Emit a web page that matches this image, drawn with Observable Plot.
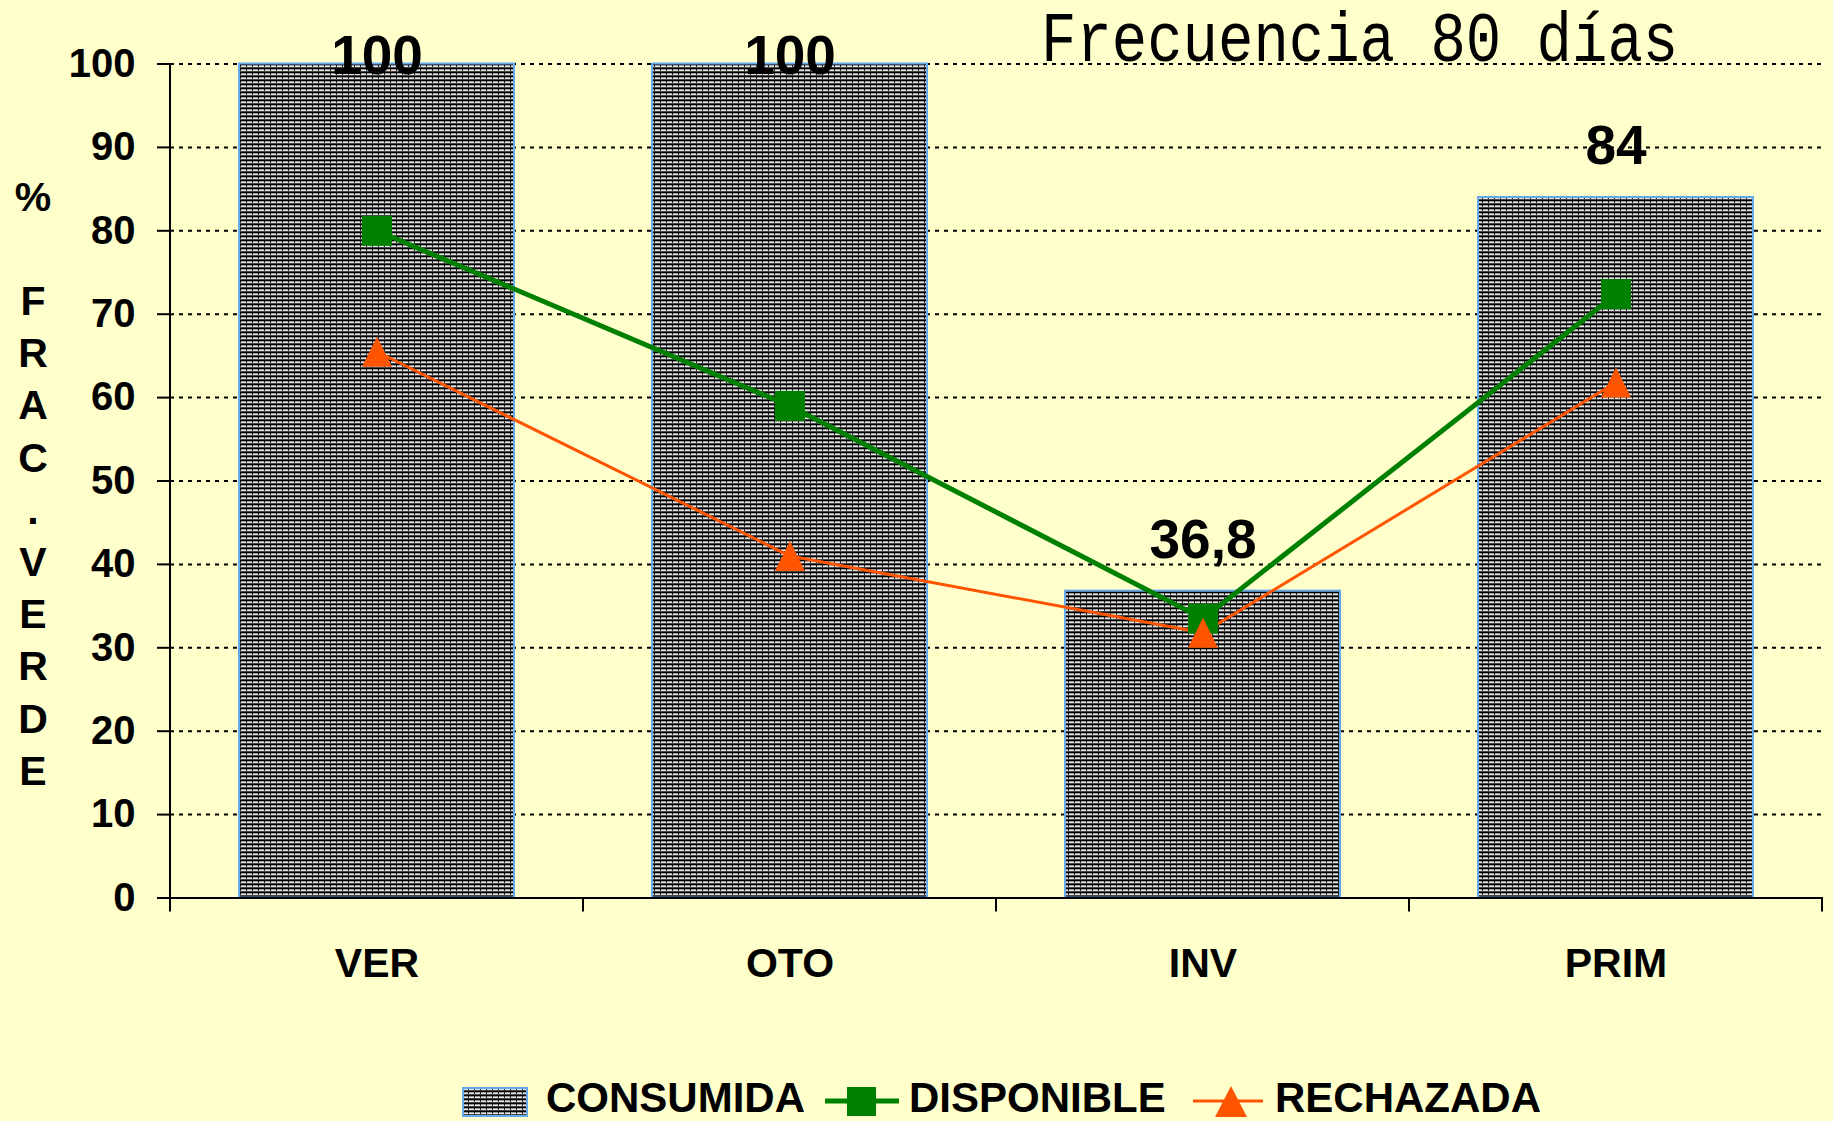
<!DOCTYPE html>
<html>
<head>
<meta charset="utf-8">
<script src="https://cdn.jsdelivr.net/npm/d3@7"></script>
<script src="https://cdn.jsdelivr.net/npm/@observablehq/plot@0.6"></script>
<style>
html, body { margin: 0; padding: 0; background: #FFFFCC; }
#wrap { position: relative; width: 1833px; height: 1121px; overflow: hidden; background: #FFFFCC;
        font-family: "Liberation Sans", Arial, sans-serif; }
#wrap svg text { font-weight: bold; }
.lg { position: absolute; font-weight: bold; font-size: 42px; line-height: 42px; color: #000; white-space: nowrap; }
.sw { position: absolute; }
</style>
</head>
<body>
<div id="wrap"></div>
<script>
// ---------- data ----------
const seasons = ["VER", "OTO", "INV", "PRIM"];
const consumida = [100, 100, 36.8, 84];
const consumidaLabels = ["100", "100", "36,8", "84"];
const disponible = [80, 59, 33.5, 72.4];
const rechazada = [65.5, 41, 31.8, 61.8];
const yTicks = [0, 10, 20, 30, 40, 50, 60, 70, 80, 90, 100];
const seriesNames = ["CONSUMIDA", "DISPONIBLE", "RECHAZADA"];
const titleText = "Frecuencia 80 días";
const yLabelLines = ["%", "F", "R", "A", "C", ".", "V", "E", "R", "D", "E"];

// ---------- styles ----------
const GREEN = "#008000";
const ORANGE = "#FF5500";
const BAR_STROKE = "#66AAEE";

const bars = seasons.map((s, i) => ({s, v: consumida[i], label: consumidaLabels[i]}));
const disp = seasons.map((s, i) => ({s, v: disponible[i]}));
const rech = seasons.map((s, i) => ({s, v: rechazada[i]}));

const W = 1833, H = 1070;
const plotTop = 63.5, plotBottom = 897.5;
const pxPerUnit = (plotBottom - plotTop) / 100;

const squareSym = {
  draw(ctx, size) {
    const r = Math.sqrt(size / Math.PI);
    ctx.moveTo(-r, -r); ctx.lineTo(r, -r); ctx.lineTo(r, r); ctx.lineTo(-r, r); ctx.closePath();
  }
};
const triSym = {
  draw(ctx, size) {
    const r = Math.sqrt(size / Math.PI);
    ctx.moveTo(0, -r); ctx.lineTo(r, r); ctx.lineTo(-r, r); ctx.closePath();
  }
};

function axisFrame(index, scales, values, dimensions) {
  const {height, marginLeft, marginTop, marginBottom} = dimensions;
  const x = scales.x;
  const bw = x.bandwidth();
  const starts = seasons.map(s => x(s));
  const step = starts[1] - starts[0];
  const gap = step - bw;
  const y0 = height - marginBottom;
  const g = d3.create("svg:g").attr("stroke", "#000").attr("stroke-width", 2);
  g.append("line").attr("x1", marginLeft).attr("x2", marginLeft).attr("y1", marginTop).attr("y2", y0);
  const bounds = [starts[0] - gap / 2, ...starts.map(s => s + bw + gap / 2)];
  for (const b of bounds) {
    g.append("line").attr("x1", b).attr("x2", b).attr("y1", y0).attr("y2", y0 + 14);
  }
  return g.node();
}

const plot = Plot.plot({
  width: W,
  height: H,
  marginLeft: 170,
  marginRight: 10,
  marginTop: plotTop,
  marginBottom: H - plotBottom,
  style: {background: "transparent", fontFamily: "Liberation Sans, Arial, sans-serif", overflow: "visible"},
  x: {domain: seasons, paddingInner: 0.334, paddingOuter: 0.167, axis: null},
  y: {domain: [0, 100], axis: null},
  marks: [
    Plot.ruleY(yTicks.filter(t => t > 0), {stroke: "#000", strokeWidth: 2, strokeDasharray: "4,5"}),
    Plot.barY(bars, {x: "s", y: "v", fill: "url(#consPat)", stroke: BAR_STROKE, strokeWidth: 2}),
    Plot.ruleY([0], {stroke: "#000", strokeWidth: 2}),
    axisFrame,
    Plot.axisY({ticks: yTicks, tickSize: 13, tickPadding: 22, fontSize: 40, fontWeight: "bold", strokeWidth: 2, label: null, tickFormat: d => String(d)}),
    Plot.axisX({tickSize: 0, tickPadding: 50, fontSize: 41, fontWeight: "bold", label: null}),
    Plot.line(rech, {x: "s", y: "v", stroke: ORANGE, strokeWidth: 3}),
    Plot.line(disp, {x: "s", y: "v", stroke: GREEN, strokeWidth: 5}),
    Plot.dot(disp, {x: "s", y: "v", symbol: squareSym, r: 15, fill: GREEN, stroke: null}),
    Plot.dot(rech, {x: "s", y: "v", symbol: triSym, r: 15, fill: ORANGE, stroke: null}),
    Plot.text(bars, {x: "s", y: d => Math.min(d.v + 51 / pxPerUnit, 100 + 7.5 / pxPerUnit), text: "label",
      fontSize: 55, fontWeight: "bold", fill: "#000", lineAnchor: "middle"})
  ]
});

// pattern for the bars
function addPattern(svgSel, id) {
  const defs = svgSel.insert("defs", ":first-child");
  const p = defs.append("pattern").attr("id", id).attr("patternUnits", "userSpaceOnUse")
    .attr("width", 6).attr("height", 4);
  p.append("rect").attr("width", 6).attr("height", 4).attr("fill", "#8a8a8a");
  p.append("rect").attr("y", 0).attr("width", 6).attr("height", 1).attr("fill", "#000");
  p.append("rect").attr("y", 1).attr("width", 6).attr("height", 1).attr("fill", "#9a9a9a");
  p.append("rect").attr("y", 2).attr("width", 6).attr("height", 1).attr("fill", "#e8e8e8");
  p.append("rect").attr("y", 3).attr("width", 6).attr("height", 1).attr("fill", "#444");
  p.append("rect").attr("x", 0).attr("y", 1).attr("width", 1).attr("height", 2).attr("fill", "#222");
}
const svg = d3.select(plot);
addPattern(svg, "consPat");

// title inside the plot area (slightly tall Courier-like face)
svg.append("text").attr("transform", "translate(1041,61) scale(1,1.18)").attr("text-anchor", "start")
  .attr("style", "font-family:'Liberation Mono','Courier New',monospace;font-size:59px;font-weight:normal")
  .attr("fill", "#000").text(titleText);

// stacked y label
const yl = svg.append("g").attr("text-anchor", "middle").attr("fill", "#000")
  .attr("style", "font-size:41px;font-weight:bold");
yLabelLines.forEach((ch, i) => {
  const base = i === 0 ? 211 : 315 + (i - 1) * 52.2;
  yl.append("text").attr("x", 33).attr("y", base).text(ch);
});

const wrap = document.getElementById("wrap");
wrap.appendChild(plot);
plot.style.position = "absolute";
plot.style.left = "0px";
plot.style.top = "0px";

// ---------- legend (HTML below the chart) ----------
function swatch(left, top, w, h, inner) {
  const s = d3.create("svg").attr("class", "sw").attr("width", w).attr("height", h)
    .style("left", left + "px").style("top", top + "px");
  inner(s);
  wrap.appendChild(s.node());
}
// CONSUMIDA patch
swatch(462, 1087, 66, 30, s => {
  addPattern(s, "legPat");
  s.append("rect").attr("x", 1).attr("y", 1).attr("width", 64).attr("height", 28)
    .attr("fill", "url(#legPat)").attr("stroke", BAR_STROKE).attr("stroke-width", 2);
});
// DISPONIBLE
swatch(824, 1085, 76, 35, s => {
  s.append("line").attr("x1", 1).attr("x2", 75).attr("y1", 16).attr("y2", 16)
    .attr("stroke", GREEN).attr("stroke-width", 5);
  s.append("rect").attr("x", 23).attr("y", 2).attr("width", 29).attr("height", 29).attr("fill", GREEN);
});
// RECHAZADA
swatch(1192, 1085, 72, 35, s => {
  s.append("line").attr("x1", 1).attr("x2", 71).attr("y1", 16).attr("y2", 16)
    .attr("stroke", ORANGE).attr("stroke-width", 3);
  s.append("path").attr("d", "M39,1 L55,32 L23,32 Z").attr("fill", ORANGE);
});
const legendLefts = [546, 909, 1275];
seriesNames.forEach((n, i) => {
  const d = document.createElement("div");
  d.className = "lg";
  d.style.left = legendLefts[i] + "px";
  d.style.top = "1077px";
  d.textContent = n;
  wrap.appendChild(d);
});
</script>
</body>
</html>
